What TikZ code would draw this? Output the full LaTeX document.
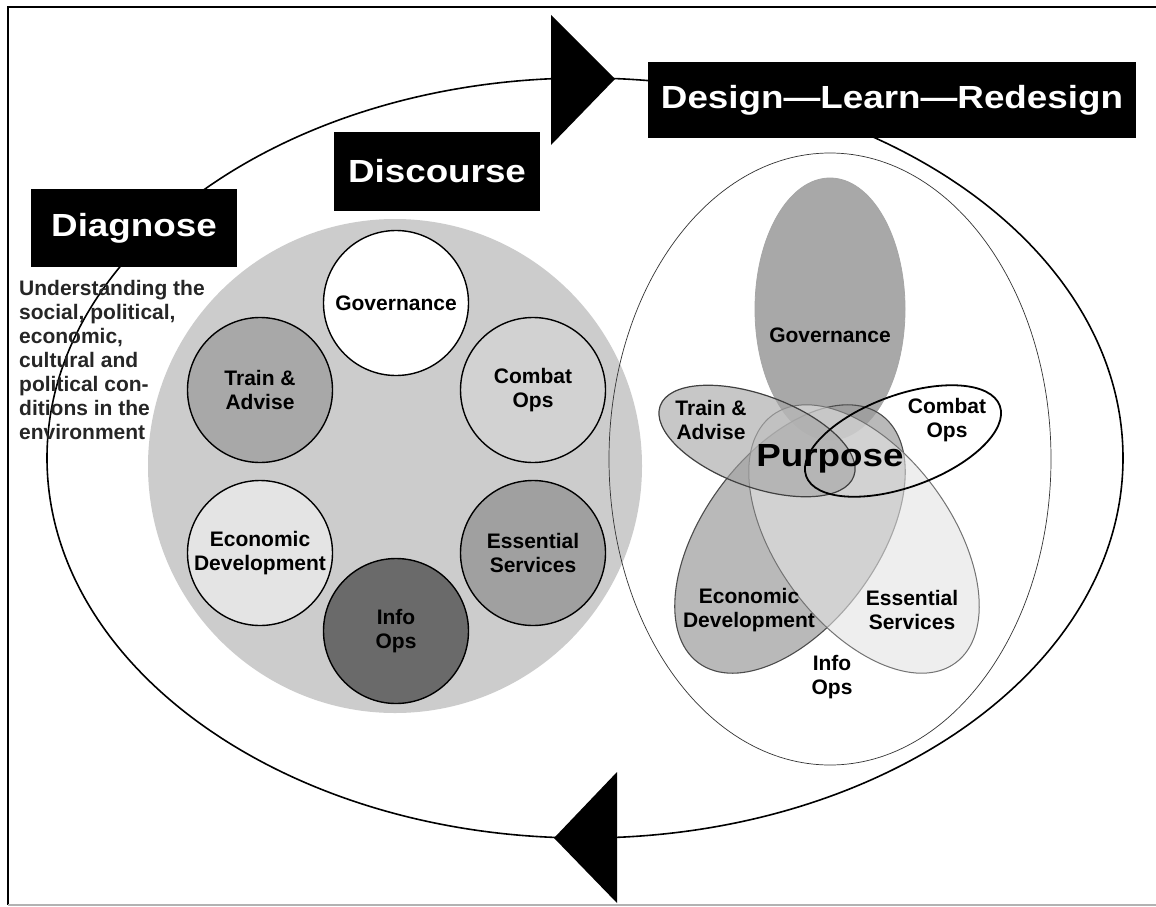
\documentclass[tikz,border=0pt]{standalone}
\usepackage{fontspec}
\setmainfont{Liberation Sans}
\newfontfamily\headfont{Liberation Sans}[FakeStretch=1.15]
\usetikzlibrary{shapes.geometric}
\definecolor{bgcirc}{HTML}{CCCCCC}
\definecolor{ltrain}{HTML}{A8A8A8}
\definecolor{lcomb}{HTML}{D2D2D2}
\definecolor{lecon}{HTML}{E4E4E4}
\definecolor{less}{HTML}{A0A0A0}
\definecolor{linfo}{HTML}{6A6A6A}
\definecolor{vgov}{HTML}{A8A8A8}
\definecolor{vecon}{HTML}{9C9C9C}
\definecolor{vess}{HTML}{E3E3E3}
\definecolor{vtrain}{HTML}{A3A3A3}
\begin{document}
\begin{tikzpicture}[x=1pt,y=-1pt,
  smalltxt/.style={font=\bfseries\fontsize{21}{24}\selectfont, align=center, inner sep=0pt},
  headbox/.style={fill=black, text=white, font=\headfont\bfseries\fontsize{32}{36}\selectfont, inner sep=0pt},
  lcirc/.style={circle, draw=black, line width=1.4pt, minimum size=145pt, smalltxt},
  loopline/.style={line width=1.6pt, black}
]
\useasboundingbox (0,0) rectangle (1156,907);
\fill[white] (0,0) rectangle (1156,907);
% frame
\draw[line width=2pt] (1156,7) -- (8,7) -- (8,905);
\draw[line width=1.2pt, gray!60] (8,905) -- (1156,905);

% cycle loop
\draw[loopline] (585,458) ellipse [x radius=538, y radius=380];

% discourse background
\fill[bgcirc] (395,466) circle [radius=247];

% left circles
\node[lcirc, fill=white] (lgov) at (396,303) {Governance};
\node[lcirc, fill=ltrain] (ltr) at (260,390) {Train \&\\Advise};
\node[lcirc, fill=lcomb] (lco) at (533,390) {Combat\\Ops};
\node[lcirc, fill=lecon] (lec) at (260,553) {Economic\\Development};
\node[lcirc, fill=less] (les) at (533,553) {Essential\\Services};
\node[lcirc, fill=linfo] (lin) at (396,631) {Info\\Ops};

% outer thin ellipse of design
\draw[line width=0.7pt, black!80] (830,459) ellipse [x radius=221, y radius=306];

% venn petals
\draw[line width=0.8pt, gray!70, fill=vgov] (830,309) ellipse [x radius=75, y radius=131];
\draw[line width=1.1pt, black!70, fill=vecon, fill opacity=0.7, rotate around={53.5:(790,539)}] (790,539) ellipse [x radius=154, y radius=87];
\draw[line width=1pt, black!55, fill=vess, fill opacity=0.6, rotate around={-53.5:(864,539)}] (864,539) ellipse [x radius=154, y radius=87];
\draw[line width=1.2pt, black!75, fill=vtrain, fill opacity=0.6, rotate around={-20:(757,441)}] (757,441) ellipse [x radius=103, y radius=46];
\draw[line width=1.8pt, black, rotate around={20:(903,441)}] (903,441) ellipse [x radius=103, y radius=46];

% venn labels
\node[smalltxt] (vgovl) at (830,335) {Governance};
\node[smalltxt] (vtrl) at (711,420) {Train \&\\Advise};
\node[smalltxt] (vcol) at (947,420) {Combat\\Ops};
\node[font=\headfont\bfseries\fontsize{32}{36}\selectfont, inner sep=0pt] (purp) at (830,459) {Purpose};
\node[smalltxt] (vecl) at (749,610) {Economic\\Development};
\node[smalltxt] (vesl) at (912,610) {Essential\\Services};
\node[smalltxt] (vinl) at (832,677) {Info\\Ops};

% diagnose text
\node[anchor=north west, align=left, inner sep=0pt, text=black!85,
      font=\bfseries\fontsize{21}{24}\selectfont] (undtxt) at (19,280)
  {Understanding the\\social, political,\\economic,\\cultural and\\political con-\\ditions in the\\environment};

% arrowheads
\fill[black] (551,15) -- (615,79) -- (551,145) -- cycle;
\fill[black] (617,772) -- (554,838) -- (617,903) -- cycle;

% boxes
\node[headbox, minimum width=206pt, minimum height=78pt] (diag) at (134,228) {Diagnose};
\node[headbox, minimum width=206pt, minimum height=79pt] (disc) at (437,171.5) {Discourse};
\node[headbox, minimum width=488pt, minimum height=76pt] (dlr) at (892,100) {Design—Learn—Redesign};
\end{tikzpicture}
\end{document}
